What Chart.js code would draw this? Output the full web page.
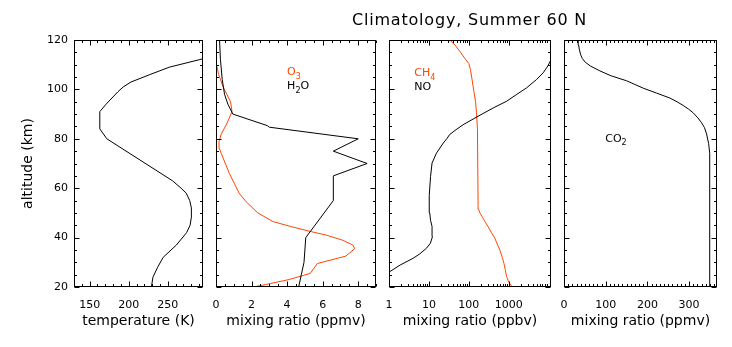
<!DOCTYPE html>
<html><head><meta charset="utf-8">
<script src="https://cdn.jsdelivr.net/npm/chart.js@4"></script>
<style>
html,body{margin:0;padding:0;background:#fff;}
#wrap{position:relative;width:732px;height:347px;overflow:hidden;background:#fff;}
canvas{position:absolute;left:0;top:0;}
#title{position:absolute;left:352px;top:12px;font:16px "DejaVu Sans";letter-spacing:0.8px;line-height:16px;color:#000;white-space:nowrap;}
</style></head>
<body><div id="wrap">
<canvas id="c1" width="732" height="347"></canvas>
<canvas id="c2" width="732" height="347"></canvas>
<canvas id="c3" width="732" height="347"></canvas>
<canvas id="c4" width="732" height="347"></canvas>
<div id="title">Climatology, Summer 60 N</div>
</div>
<script>
// ---- data (altitude in km) ----
const altTicks = [20, 40, 60, 80, 100, 120];
const tempTicks = [150, 200, 250];
const ppmvTicks = [0, 2, 4, 6, 8];
const ppbvTicks = [1, 10, 100, 1000];
const co2Ticks = [0, 100, 200, 300];

const tempAlt = [20, 24, 28, 32, 37, 42, 45, 48, 50, 52, 55, 58, 60, 63, 80, 84, 91, 94, 99, 101, 103, 106, 109, 112, 116, 120];
const temperature = [229, 231, 237, 244, 261, 274, 278.5, 280, 280.3, 280, 278, 273.5, 267, 256, 172, 163, 163, 171, 186, 193, 203, 227, 252, 290, 340, 390];

const o3Alt = [20, 21, 23, 25.5, 29.5, 32.5, 35.5, 37, 39, 41, 42.5, 44.5, 46.5, 50, 54.5, 58, 66, 74, 76, 79, 82, 86, 91, 95, 101, 106, 110, 115, 120];
const o3 = [2.1, 2.8, 4.1, 5.3, 5.7, 7.3, 7.8, 7.7, 7.1, 6.2, 5.3, 4.2, 3.2, 2.35, 1.7, 1.3, 0.75, 0.3, 0.2, 0.17, 0.3, 0.6, 0.9, 0.82, 0.4, 0.15, 0.03, 0.02, 0.02];

const h2oAlt = [20, 25, 30, 40, 55, 65, 70, 75, 80, 84.7, 85.3, 90, 94, 98, 104, 112, 120];
const h2o = [4.65, 4.8, 4.95, 5.05, 6.6, 6.6, 8.5, 6.6, 8.0, 3.0, 2.9, 0.95, 0.67, 0.48, 0.35, 0.25, 0.2];

const ch4Alt = [20, 22, 24.2, 27, 29.6, 32, 35, 37, 39.8, 42, 44.5, 46, 48, 50, 51.5, 53, 84, 90.5, 95, 101, 105, 108, 110.5, 112.5, 115.5, 118, 120];
const ch4 = [1230, 1000, 890, 820, 760, 690, 600, 530, 448, 370, 302, 265, 225, 190, 176, 171, 165, 156, 148, 129, 118, 110, 100, 80, 59, 45, 33];

const noAlt = [20, 23, 26, 28.9, 31.6, 33.4, 35.7, 37.7, 40.4, 44.5, 47, 50, 57, 64.7, 70.2, 74.2, 78.3, 80, 81.7, 83.7, 85.7, 89.1, 92.5, 95.2, 98, 100.6, 104, 106.7, 109.5, 112, 116, 120];
const no = [0.3, 0.55, 1.0, 1.9, 4, 5.9, 8.7, 10.9, 12.3, 12, 11, 10.5, 10.2, 11, 12, 15.5, 23, 28, 33, 48, 72, 170, 410, 885, 1600, 2800, 5000, 7300, 9600, 11500, 16000, 22000];

const co2Alt = [20, 70, 74, 78, 82, 84.5, 86.5, 88.5, 90.5, 92, 93.5, 95, 96.5, 98.5, 100.5, 102, 103.5, 105.5, 107.5, 109.5, 111, 112.5, 114, 116, 118, 120];
const co2 = [350, 350, 349, 347, 342, 337, 330, 321, 310, 299, 286, 271, 254, 222, 190, 170, 150, 113, 86, 63, 51, 44, 40, 37, 35, 34];

const RED = 'rgb(255,69,0)';
const FONT = '"DejaVu Sans", sans-serif';

function pts(vals, alts) { return vals.map((v, i) => ({x: v, y: alts[i]})); }
function range(a, b, s) { const r = []; for (let v = a; v <= b + 1e-9; v += s) r.push(+v.toFixed(6)); return r; }
function logMinor(maxDec) { const r = []; for (let d = 0; d < maxDec; d++) for (let k = 2; k <= 9; k++) r.push(k * Math.pow(10, d)); return r; }

const extras = {
  c1: {xMajor: tempTicks, xMinor: range(130, 290, 10), labels: []},
  c2: {xMajor: ppmvTicks, xMinor: range(0.5, 9, 0.5), labels: [
        {x: 4.0, y: 105.7, color: RED, parts: [['O', 0], ['3', 1]]},
        {x: 4.0, y: 100.0, color: '#000', parts: [['H', 0], ['2', 1], ['O', 0]]}]},
  c3: {xMajor: ppbvTicks, xMinor: logMinor(5), labels: [
        {x: 4.3, y: 105.3, color: RED, parts: [['CH', 0], ['4', 1]]},
        {x: 4.3, y: 99.8, color: '#000', parts: [['NO', 0]]}]},
  c4: {xMajor: co2Ticks, xMinor: range(10, 360, 10), labels: [
        {x: 99, y: 78.8, color: '#000', parts: [['CO', 0], ['2', 1]]}]}
};

const framePlugin = {
  id: 'frame',
  afterDraw(chart) {
    const e = extras[chart.canvas.id];
    const {ctx, chartArea: a} = chart;
    const xs = chart.scales.x, ys = chart.scales.y;
    ctx.save();
    ctx.strokeStyle = '#000'; ctx.lineWidth = 1;
    const L = Math.round(a.left) + 0.5, R = Math.round(a.right) - 0.5;
    const T = Math.round(a.top) + 0.5, B = Math.round(a.bottom) - 0.5;
    ctx.strokeRect(L, T, R - L, B - T);
    ctx.beginPath();
    const seg = (x1, y1, x2, y2) => { ctx.moveTo(x1, y1); ctx.lineTo(x2, y2); };
    const xt = (v, len) => { if (v < xs.min || v > xs.max) return; const p = Math.round(xs.getPixelForValue(v)) + 0.5; seg(p, B, p, B - len); seg(p, T, p, T + len); };
    const yt = (v, len) => { const p = Math.round(ys.getPixelForValue(v)) + 0.5; seg(L, p, L + len, p); seg(R, p, R - len, p); };
    e.xMajor.forEach(v => xt(v, 5));
    e.xMinor.forEach(v => xt(v, 2.5));
    altTicks.forEach(v => yt(v, 5));
    range(25, 115, 5).forEach(v => yt(v, 2.5));
    ctx.stroke();
    e.labels.forEach(lb => {
      let x = xs.getPixelForValue(lb.x); const y = ys.getPixelForValue(lb.y);
      ctx.fillStyle = lb.color; ctx.textBaseline = 'alphabetic'; ctx.textAlign = 'left';
      lb.parts.forEach(([txt, sub]) => {
        ctx.font = (sub ? '8px ' : '11px ') + FONT;
        ctx.fillText(txt, x, sub ? y + 3.5 : y);
        x += ctx.measureText(txt).width;
      });
    });
    ctx.restore();
  }
};

function makeChart(id, cfg) {
  const showY = !!cfg.showY;
  return new Chart(document.getElementById(id), {
    type: 'scatter',
    data: {datasets: cfg.datasets.map(d => ({data: d.data, borderColor: d.color, backgroundColor: d.color,
      showLine: true, pointRadius: 0, borderWidth: 1, tension: 0}))},
    options: {
      responsive: false, animation: false, events: [],
      layout: {padding: {left: 0, right: 732 - cfg.right, top: 40, bottom: 0}},
      plugins: {legend: {display: false}, tooltip: {enabled: false}},
      scales: {
        x: {type: cfg.xType, min: cfg.xMin, max: cfg.xMax, position: 'bottom',
            grid: {display: false, drawTicks: false}, border: {display: false},
            afterBuildTicks: s => { s.ticks = cfg.xTicks.map(v => ({value: v})); },
            afterFit: s => { s.height = 347 - 287; },
            ticks: {color: '#000', font: {family: FONT, size: 11}, padding: 12, maxRotation: 0, autoSkip: false,
                    callback: v => String(v)},
            title: {display: true, text: cfg.xTitle, color: '#000', font: {family: FONT, size: 14},
                    padding: {top: 0, bottom: 17.5}}},
        y: {type: 'linear', min: 20, max: 120, display: true, position: 'left',
            grid: {display: false, drawTicks: false}, border: {display: false},
            afterBuildTicks: s => { s.ticks = altTicks.map(v => ({value: v})); },
            afterFit: s => { s.width = cfg.left; },
            ticks: {display: showY, color: '#000', font: {family: FONT, size: 11}, padding: 6, callback: v => String(v)},
            title: {display: showY, text: 'altitude (km)', color: '#000', font: {family: FONT, size: 14},
                    padding: {top: 19.5, bottom: 0}}}
      }
    },
    plugins: [framePlugin]
  });
}

makeChart('c1', {showY: true, left: 74, right: 203, xType: 'linear', xMin: 130, xMax: 295, xTicks: tempTicks,
  xTitle: 'temperature (K)', datasets: [{data: pts(temperature, tempAlt), color: '#000'}]});
makeChart('c2', {left: 216, right: 376, xType: 'linear', xMin: 0, xMax: 9, xTicks: ppmvTicks,
  xTitle: 'mixing ratio (ppmv)', datasets: [{data: pts(h2o, h2oAlt), color: '#000'}, {data: pts(o3, o3Alt), color: RED}]});
makeChart('c3', {left: 389, right: 551, xType: 'logarithmic', xMin: 1, xMax: 11500, xTicks: ppbvTicks,
  xTitle: 'mixing ratio (ppbv)', datasets: [{data: pts(no, noAlt), color: '#000'}, {data: pts(ch4, ch4Alt), color: RED}]});
makeChart('c4', {left: 564, right: 717, xType: 'linear', xMin: 0, xMax: 367, xTicks: co2Ticks,
  xTitle: 'mixing ratio (ppmv)', datasets: [{data: pts(co2, co2Alt), color: '#000'}]});
</script>
</body></html>
